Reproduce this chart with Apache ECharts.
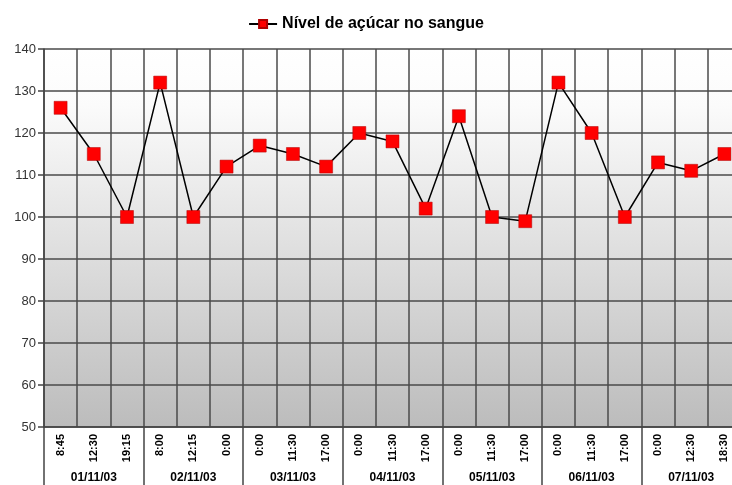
<!DOCTYPE html>
<html>
<head>
<meta charset="utf-8">
<script src="https://cdn.jsdelivr.net/npm/echarts@6/dist/echarts.min.js"></script>
<style>
html, body { margin: 0; padding: 0; background: #fff; }
#chart { width: 732px; height: 485px; }
</style>
</head>
<body>
<div id="chart"></div>
<script>
// leituras de glicemia
var horas = ['8:45', '12:30', '19:15', '8:00', '12:15', '0:00', '0:00', '11:30', '17:00',
  '0:00', '11:30', '17:00', '0:00', '11:30', '17:00', '0:00', '11:30', '17:00',
  '0:00', '12:30', '18:30'];
var datas = ['01/11/03', '02/11/03', '03/11/03', '04/11/03', '05/11/03', '06/11/03', '07/11/03'];
var glicemia = [126, 115, 100, 132, 100, 112, 117, 115, 112, 120, 118, 102, 124, 100, 99,
  132, 120, 100, 113, 111, 115];
var nomeSerie = 'Nível de açúcar no sangue';

var chart = echarts.init(document.getElementById('chart'));
var fonte = 'Liberation Sans, Arial, sans-serif';

chart.setOption({
  animation: false,
  legend: {
    top: 11,
    left: 'center',
    itemWidth: 28,
    itemHeight: 10,
    itemGap: 6,
    textStyle: { fontFamily: fonte, fontWeight: 'bold', fontSize: 16, color: '#000' },
    data: [nomeSerie]
  },
  grid: {
    left: 44,
    width: 697, // a última coluna sai um pouco da imagem
    top: 49,
    bottom: 58,
    outerBoundsMode: 'none',
    show: true,
    borderWidth: 0,
    backgroundColor: new echarts.graphic.LinearGradient(0, 0, 0, 1, [
      { offset: 0, color: '#ffffff' },
      { offset: 0.15, color: '#fbfbfb' },
      { offset: 1, color: '#bcbcbc' }
    ])
  },
  xAxis: [
    {
      type: 'category',
      data: horas,
      boundaryGap: true,
      axisLine: { lineStyle: { color: '#444', width: 1.5 } },
      axisTick: { show: false },
      splitLine: { show: true, interval: 0, lineStyle: { color: '#4a4a4a', width: 1.5 } },
      axisLabel: {
        interval: 0,
        rotate: 90,
        margin: 7,
        fontFamily: fonte,
        fontWeight: 'bold',
        fontSize: 11,
        color: '#000'
      }
    },
    {
      type: 'category',
      data: datas,
      position: 'bottom',
      boundaryGap: true,
      axisLine: { show: false },
      axisTick: { show: true, interval: 0, length: 60, lineStyle: { color: '#444', width: 1.5 } },
      axisLabel: {
        interval: 0,
        margin: 45,
        fontFamily: fonte,
        fontWeight: 'bold',
        fontSize: 12,
        color: '#000'
      }
    }
  ],
  yAxis: {
    type: 'value',
    min: 50,
    max: 140,
    interval: 10,
    axisLine: { show: true, lineStyle: { color: '#444', width: 1.5 } },
    axisTick: { show: true, length: 6, lineStyle: { color: '#444', width: 1.5 } },
    splitLine: { show: true, lineStyle: { color: '#4a4a4a', width: 1.5 } },
    axisLabel: { margin: 8, fontFamily: fonte, fontSize: 13, color: '#333' }
  },
  series: [
    {
      name: nomeSerie,
      type: 'line',
      xAxisIndex: 0,
      data: glicemia,
      symbol: 'rect',
      symbolSize: 13,
      lineStyle: { color: '#000', width: 1.5 },
      itemStyle: { color: '#ff0000', borderColor: '#b00000', borderWidth: 0.5 }
    }
  ]
});
</script>
</body>
</html>
